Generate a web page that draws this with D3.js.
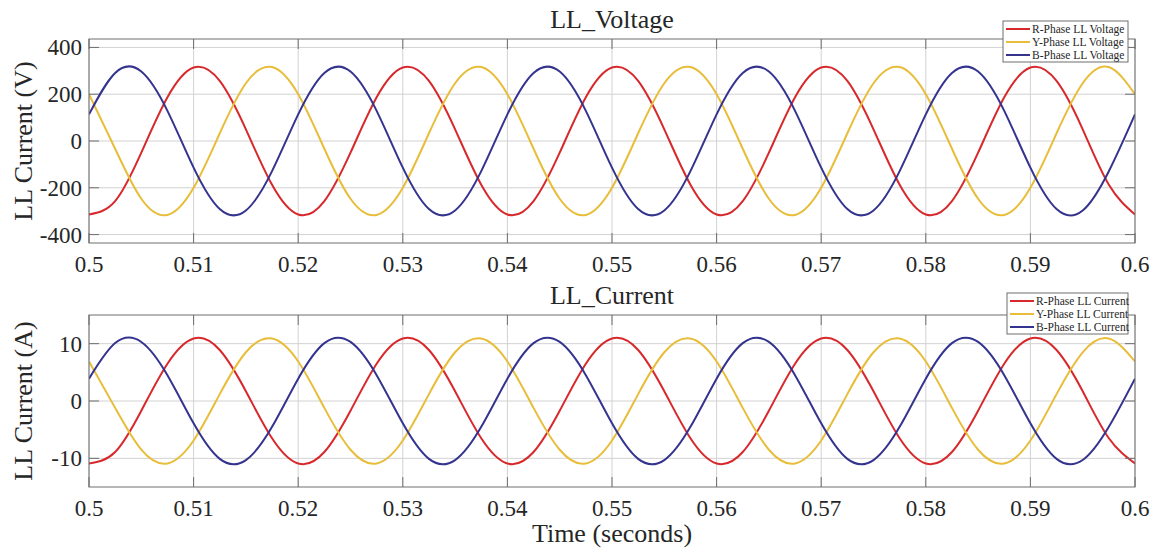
<!DOCTYPE html>
<html>
<head>
<meta charset="utf-8">
<script src="https://cdn.jsdelivr.net/npm/d3@7"></script>
<style>
  body { margin: 0; background: #fff; }
  svg text { font-family: "Liberation Serif", "Times New Roman", serif; fill: #262626; }
</style>
</head>
<body>
<div id="chart"></div>
<script>
// sample times (s)
var sampleTimes = [0.5, 0.5025, 0.505, 0.5075, 0.51, 0.5125, 0.515, 0.5175, 0.52, 0.5225,
  0.525, 0.5275, 0.53, 0.5325, 0.535, 0.5375, 0.54, 0.5425, 0.545, 0.5475,
  0.55, 0.5525, 0.555, 0.5575, 0.56, 0.5625, 0.565, 0.5675, 0.57, 0.5725,
  0.575, 0.5775, 0.58, 0.5825, 0.585, 0.5875, 0.59, 0.5925, 0.595, 0.5975, 0.6];

var timeTicks = [0.5, 0.51, 0.52, 0.53, 0.54, 0.55, 0.56, 0.57, 0.58, 0.59, 0.6];
var voltTicks = [-400, -200, 0, 200, 400];
var currTicks = [-10, 0, 10];

// line-to-line voltages (V)
var voltR = [-314, -257, -50, 187, 314, 257, 50, -187, -314, -257, -50, 187, 314, 257, 50, -187,
  -314, -257, -50, 187, 314, 257, 50, -187, -314, -257, -50, 187, 314, 257, 50, -187,
  -314, -257, -50, 187, 314, 257, 50, -187, -314];
var voltY = [200, -33, -247, -316, -200, 33, 247, 316, 200, -33, -247, -316, -200, 33, 247, 316,
  200, -33, -247, -316, -200, 33, 247, 316, 200, -33, -247, -316, -200, 33, 247, 316,
  200, -33, -247, -316, -200, 33, 247, 316, 200];
var voltB = [114, 291, 297, 129, -114, -291, -297, -129, 114, 291, 297, 129, -114, -291, -297, -129,
  114, 291, 297, 129, -114, -291, -297, -129, 114, 291, 297, 129, -114, -291, -297, -129,
  114, 291, 297, 129, -114, -291, -297, -129, 114];

// line currents (A)
var currR = [-10.9, -8.9, -1.7, 6.5, 10.9, 8.9, 1.7, -6.5, -10.9, -8.9, -1.7, 6.5, 10.9, 8.9, 1.7, -6.5,
  -10.9, -8.9, -1.7, 6.5, 10.9, 8.9, 1.7, -6.5, -10.9, -8.9, -1.7, 6.5, 10.9, 8.9, 1.7, -6.5,
  -10.9, -8.9, -1.7, 6.5, 10.9, 8.9, 1.7, -6.5, -10.9];
var currY = [6.9, -1.2, -8.5, -10.9, -6.9, 1.2, 8.5, 10.9, 6.9, -1.2, -8.5, -10.9, -6.9, 1.2, 8.5, 10.9,
  6.9, -1.2, -8.5, -10.9, -6.9, 1.2, 8.5, 10.9, 6.9, -1.2, -8.5, -10.9, -6.9, 1.2, 8.5, 10.9,
  6.9, -1.2, -8.5, -10.9, -6.9, 1.2, 8.5, 10.9, 6.9];
var currB = [3.9, 10.1, 10.3, 4.5, -3.9, -10.1, -10.3, -4.5, 3.9, 10.1, 10.3, 4.5, -3.9, -10.1, -10.3, -4.5,
  3.9, 10.1, 10.3, 4.5, -3.9, -10.1, -10.3, -4.5, 3.9, 10.1, 10.3, 4.5, -3.9, -10.1, -10.3, -4.5,
  3.9, 10.1, 10.3, 4.5, -3.9, -10.1, -10.3, -4.5, 3.9];

var phaseColors = ["#d7282c", "#e8bd3a", "#34348f"];

var svg = d3.select("#chart").append("svg")
    .attr("width", 1154)
    .attr("height", 551);

function drawPanel(p) {
  var x = d3.scaleLinear().domain([0.5, 0.6]).range([p.left, p.right]);
  var y = d3.scaleLinear().domain(p.yDomain).range([p.bottom, p.top]);
  var g = svg.append("g");
  var axisColor = "#6e6e6e", tickLen = 10;

  // grid
  g.selectAll(".vgrid").data(timeTicks).enter().append("line")
      .attr("x1", function(d) { return x(d); }).attr("x2", function(d) { return x(d); })
      .attr("y1", p.top).attr("y2", p.bottom)
      .attr("stroke", "#d2d2d2").attr("stroke-width", 1);
  g.selectAll(".hgrid").data(p.yTicks).enter().append("line")
      .attr("y1", function(d) { return y(d); }).attr("y2", function(d) { return y(d); })
      .attr("x1", p.left).attr("x2", p.right)
      .attr("stroke", "#d2d2d2").attr("stroke-width", 1);

  // series
  var line = d3.line()
      .x(function(d, i) { return x(sampleTimes[i]); })
      .y(function(d) { return y(d); })
      .curve(d3.curveNatural);
  var clipId = "clip" + p.top;
  svg.append("clipPath").attr("id", clipId).append("rect")
      .attr("x", p.left).attr("y", p.top)
      .attr("width", p.right - p.left).attr("height", p.bottom - p.top);
  g.append("g").attr("clip-path", "url(#" + clipId + ")")
    .selectAll("path").data(p.series).enter().append("path")
      .attr("d", line)
      .attr("fill", "none")
      .attr("stroke", function(d, i) { return phaseColors[i]; })
      .attr("stroke-width", 2);

  // box and ticks
  g.append("rect")
      .attr("x", p.left).attr("y", p.top)
      .attr("width", p.right - p.left).attr("height", p.bottom - p.top)
      .attr("fill", "none").attr("stroke", axisColor);
  timeTicks.forEach(function(t) {
    g.append("line").attr("x1", x(t)).attr("x2", x(t)).attr("y1", p.bottom).attr("y2", p.bottom - tickLen).attr("stroke", axisColor);
    g.append("line").attr("x1", x(t)).attr("x2", x(t)).attr("y1", p.top).attr("y2", p.top + tickLen).attr("stroke", axisColor);
  });
  p.yTicks.forEach(function(v) {
    g.append("line").attr("y1", y(v)).attr("y2", y(v)).attr("x1", p.left).attr("x2", p.left + tickLen).attr("stroke", axisColor);
    g.append("line").attr("y1", y(v)).attr("y2", y(v)).attr("x1", p.right).attr("x2", p.right - tickLen).attr("stroke", axisColor);
  });

  // tick labels
  g.selectAll(".xlab").data(timeTicks).enter().append("text")
      .attr("x", function(d) { return x(d); })
      .attr("y", p.bottom + 29)
      .attr("text-anchor", "middle")
      .style("font-size", "23px")
      .text(function(d) { return String(d); });
  g.selectAll(".ylab").data(p.yTicks).enter().append("text")
      .attr("x", p.left - 7)
      .attr("y", function(d) { return y(d) + 8; })
      .attr("text-anchor", "end")
      .style("font-size", "23px")
      .text(function(d) { return String(d); });

  // title and y label
  g.append("text")
      .attr("x", (p.left + p.right) / 2)
      .attr("y", p.top - 11)
      .attr("text-anchor", "middle")
      .style("font-size", "26px")
      .text(p.title);
  g.append("text")
      .attr("transform", "translate(32," + ((p.top + p.bottom) / 2) + ") rotate(-90)")
      .attr("text-anchor", "middle")
      .style("font-size", "26px")
      .text(p.yLabel);

  // legend
  var lg = g.append("g").attr("transform", "translate(" + p.legendX + "," + p.legendY + ")");
  lg.append("rect")
      .attr("width", p.legendW).attr("height", 41)
      .attr("fill", "#fff").attr("stroke", "#6e6e6e");
  p.legendNames.forEach(function(name, i) {
    var yy = 8 + i * 13;
    lg.append("line").attr("x1", 3).attr("x2", 27).attr("y1", yy).attr("y2", yy)
        .attr("stroke", phaseColors[i]).attr("stroke-width", 2);
    lg.append("text").attr("x", 29).attr("y", yy + 4)
        .style("font-size", "11.5px")
        .text(name);
  });
}

drawPanel({
  left: 89, right: 1135, top: 39, bottom: 243,
  yDomain: [-436, 436], yTicks: voltTicks,
  series: [voltR, voltY, voltB],
  title: "LL_Voltage", yLabel: "LL Current (V)",
  legendNames: ["R-Phase LL Voltage", "Y-Phase LL Voltage", "B-Phase LL Voltage"],
  legendX: 1003, legendY: 21, legendW: 125
});

drawPanel({
  left: 89, right: 1135, top: 315, bottom: 487,
  yDomain: [-15, 15], yTicks: currTicks,
  series: [currR, currY, currB],
  title: "LL_Current", yLabel: "LL Current (A)",
  legendNames: ["R-Phase LL Current", "Y-Phase LL Current", "B-Phase LL Current"],
  legendX: 1007, legendY: 293, legendW: 121
});

svg.append("text")
    .attr("x", 612)
    .attr("y", 542)
    .attr("text-anchor", "middle")
    .style("font-size", "26px")
    .text("Time (seconds)");
</script>
</body>
</html>
